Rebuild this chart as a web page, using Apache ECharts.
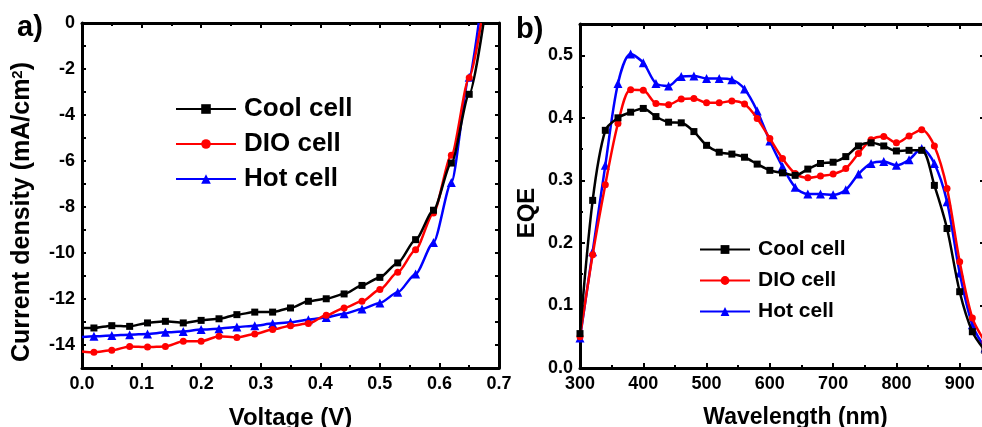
<!DOCTYPE html>
<html>
<head>
<meta charset="utf-8">
<script src="https://cdn.jsdelivr.net/npm/echarts@6/dist/echarts.min.js"></script>
<style>html,body{margin:0;padding:0;background:#fff;}#c{width:982px;height:427px;}</style>
</head>
<body>
<div id="c"></div>
<script>
// ---- Panel a) J-V curves ----
const jvVoltage = [0, 0.02, 0.05, 0.08, 0.11, 0.14, 0.17, 0.20, 0.23, 0.26, 0.29, 0.32, 0.35, 0.38, 0.41, 0.44, 0.47, 0.50, 0.53, 0.56, 0.59, 0.62, 0.65];
const coolJ = [-13.26, -13.26, -13.16, -13.19, -13.04, -12.97, -13.04, -12.93, -12.86, -12.68, -12.57, -12.57, -12.39, -12.10, -11.99, -11.78, -11.41, -11.06, -10.43, -9.42, -8.14, -6.09, -3.10];
const dioJ  = [-14.28, -14.32, -14.23, -14.06, -14.09, -14.06, -13.84, -13.84, -13.62, -13.67, -13.52, -13.33, -13.16, -13.07, -12.71, -12.39, -12.10, -11.59, -10.84, -9.86, -8.26, -5.75, -2.38];
const hotJ  = [-13.65, -13.62, -13.59, -13.55, -13.52, -13.45, -13.41, -13.33, -13.29, -13.22, -13.16, -13.07, -13.01, -12.90, -12.80, -12.64, -12.43, -12.17, -11.71, -10.91, -9.54, -6.93, -2.36];
const vocCool = 0.674, vocDio = 0.670, vocHot = 0.666;

// ---- Panel b) EQE spectra ----
const wavelength = [300, 320, 340, 360, 380, 400, 420, 440, 460, 480, 500, 520, 540, 560, 580, 600, 620, 640, 660, 680, 700, 720, 740, 760, 780, 800, 820, 840, 860, 880, 900, 920, 940];
const coolEQE = [0.055, 0.268, 0.380, 0.400, 0.409, 0.415, 0.402, 0.393, 0.392, 0.378, 0.356, 0.345, 0.342, 0.337, 0.326, 0.316, 0.312, 0.308, 0.318, 0.327, 0.329, 0.338, 0.355, 0.360, 0.355, 0.347, 0.348, 0.348, 0.292, 0.223, 0.122, 0.058, 0.028];
const dioEQE  = [0.050, 0.181, 0.293, 0.391, 0.445, 0.444, 0.423, 0.421, 0.430, 0.431, 0.424, 0.424, 0.427, 0.422, 0.399, 0.367, 0.335, 0.311, 0.304, 0.307, 0.310, 0.319, 0.343, 0.365, 0.370, 0.360, 0.371, 0.381, 0.355, 0.287, 0.170, 0.080, 0.042];
const hotEQE  = [0.048, 0.186, 0.324, 0.455, 0.502, 0.488, 0.455, 0.451, 0.466, 0.467, 0.463, 0.463, 0.461, 0.446, 0.411, 0.363, 0.322, 0.289, 0.278, 0.278, 0.277, 0.285, 0.310, 0.327, 0.330, 0.324, 0.333, 0.351, 0.327, 0.266, 0.152, 0.069, 0.032];

const seriesNames = ['Cool cell', 'DIO cell', 'Hot cell'];
const colors = ['#000000', '#ff0000', '#0000ff'];
const symbols = ['rect', 'circle', 'triangle'];

const FONT = '"Liberation Sans", Arial, sans-serif';

function jvData(J, voc) {
  const d = jvVoltage.map((v, i) => i === 0 ? {value: [v, J[i]], symbol: 'none'} : [v, J[i]]);
  d.push({value: [voc, 0], symbol: 'none'});
  return d;
}
function eqeData(E) { return wavelength.map((w, i) => [w, E[i]]); }

const axisLineStyle = {show: true, onZero: false, lineStyle: {color: '#000', width: 3}};
const labelStyle = {color: '#000', fontFamily: FONT, fontWeight: 'bold', fontSize: 18};
const nameStyle = {color: '#000', fontFamily: FONT, fontWeight: 'bold', fontSize: 24};

function mainAxis(extra) {
  return Object.assign({
    type: 'value',
    axisLine: axisLineStyle,
    axisTick: {show: true, inside: true, length: 5, lineStyle: {color: '#000', width: 2}},
    minorTick: {show: true, splitNumber: 2, length: 3, lineStyle: {color: '#000', width: 2}},
    splitLine: {show: false},
    axisLabel: Object.assign({}, labelStyle),
    nameTextStyle: Object.assign({}, nameStyle)
  }, extra);
}
function mirrorAxis(extra) {
  return Object.assign({
    type: 'value',
    axisLine: axisLineStyle,
    axisTick: {show: true, inside: true, length: 5, lineStyle: {color: '#000', width: 2}},
    minorTick: {show: true, splitNumber: 2, length: 3, lineStyle: {color: '#000', width: 2}},
    splitLine: {show: false},
    axisLabel: {show: false}
  }, extra);
}

const series = [];
[coolJ, dioJ, hotJ].forEach((J, k) => {
  const voc = [vocCool, vocDio, vocHot][k];
  series.push({
    name: seriesNames[k], type: 'line', xAxisIndex: 0, yAxisIndex: 0,
    data: jvData(J, voc), symbol: symbols[k], symbolSize: k === 2 ? 9 : 7,
    smooth: 0.25, smoothMonotone: 'x',
    lineStyle: {color: colors[k], width: 2.5}, itemStyle: {color: colors[k]},
    z: 3 - k
  });
});
[coolEQE, dioEQE, hotEQE].forEach((E, k) => {
  series.push({
    name: seriesNames[k], type: 'line', xAxisIndex: 2, yAxisIndex: 2,
    data: eqeData(E), symbol: symbols[k], symbolSize: k === 2 ? 9 : 7,
    smooth: 0.3,
    lineStyle: {color: colors[k], width: 2.5}, itemStyle: {color: colors[k]},
    z: 3 - k
  });
});

const legendText = (size) => ({color: '#000', fontFamily: FONT, fontWeight: 'bold', fontSize: size, padding: [0, 0, 0, 3]});

const option = {
  animation: false,
  backgroundColor: '#fff',
  grid: [
    {left: 82, right: 483, top: 23, bottom: 59, containLabel: false, outerBoundsMode: 'none'},
    {left: 580, right: -3, top: 24, bottom: 59, containLabel: false, outerBoundsMode: 'none'}
  ],
  xAxis: [
    mainAxis({gridIndex: 0, min: 0, max: 0.7, interval: 0.1,
      axisLabel: Object.assign({}, labelStyle, {margin: 7, formatter: v => v.toFixed(1)}),
      name: 'Voltage (V)', nameLocation: 'middle', nameGap: 38}),
    mirrorAxis({gridIndex: 0, position: 'top', min: 0, max: 0.7, interval: 0.1}),
    mainAxis({gridIndex: 1, min: 300, max: 940, interval: 100,
      axisLabel: Object.assign({}, labelStyle, {margin: 7, showMaxLabel: false}),
      name: 'Wavelength (nm)', nameLocation: 'middle', nameGap: 38,
      nameTextStyle: Object.assign({}, nameStyle, {fontSize: 23, padding: [0, 0, 0, 26]})}),
    mirrorAxis({gridIndex: 1, position: 'top', min: 300, max: 940, interval: 100})
  ],
  yAxis: [
    mainAxis({gridIndex: 0, min: -15, max: 0, interval: 1,
      minorTick: {show: false},
      axisTick: {show: true, inside: true, length: 4, lineStyle: {color: '#000', width: 2}},
      axisLabel: Object.assign({}, labelStyle, {margin: 7, formatter: v => (Math.round(v) % 2 === 0 ? String(v) : '')}),
      name: 'Current density (mA/cm{sup|2})', nameLocation: 'middle', nameGap: 47,
      nameTextStyle: Object.assign({}, nameStyle, {fontSize: 25, padding: [0, 33, 0, 0],
        rich: {sup: {fontFamily: FONT, fontWeight: 'bold', fontSize: 15, color: '#000', verticalAlign: 'top', padding: [0, 0, 10, 0]}}})}),
    mirrorAxis({gridIndex: 0, position: 'right', min: -15, max: 0, interval: 1, minorTick: {show: false},
      axisTick: {show: true, inside: true, length: 4, lineStyle: {color: '#000', width: 2}}}),
    mainAxis({gridIndex: 1, min: 0, max: 0.55, interval: 0.1,
      axisLabel: Object.assign({}, labelStyle, {margin: 7, showMaxLabel: false, formatter: v => v.toFixed(1)}),
      name: 'EQE', nameLocation: 'middle', nameGap: 41,
      nameTextStyle: Object.assign({}, nameStyle, {padding: [0, 34, 0, 0]})}),
    mirrorAxis({gridIndex: 1, position: 'right', min: 0, max: 0.55, interval: 0.1})
  ],
  legend: [
    {data: seriesNames, orient: 'vertical', left: 175, top: 96, padding: 0, itemWidth: 60, itemHeight: 12, itemGap: 9,
      textStyle: legendText(26), selectedMode: false},
    {data: seriesNames, orient: 'vertical', left: 699, top: 239, padding: 0, itemWidth: 50, itemHeight: 11, itemGap: 10,
      textStyle: legendText(21), selectedMode: false}
  ],
  graphic: [
    {type: 'text', left: 17, top: 13, style: {text: 'a)', fill: '#000', font: 'bold 29px ' + FONT}},
    {type: 'text', left: 516, top: 15, style: {text: 'b)', fill: '#000', font: 'bold 29px ' + FONT}}
  ],
  series: series
};

const chart = echarts.init(document.getElementById('c'), null, {renderer: 'canvas'});
chart.setOption(option);
</script>
</body>
</html>
